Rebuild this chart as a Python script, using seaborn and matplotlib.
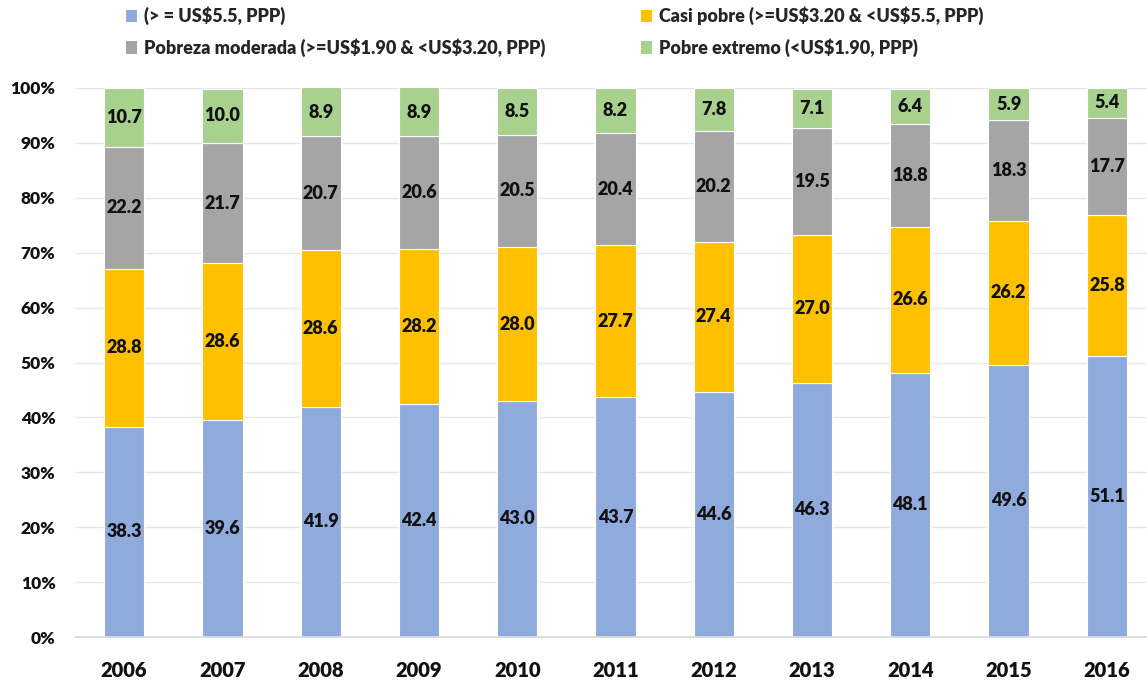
import numpy as np
import pandas as pd
import seaborn as sns
import matplotlib.pyplot as plt
from matplotlib.ticker import FuncFormatter, MultipleLocator
from matplotlib.patches import Patch

years = ['2006', '2007', '2008', '2009', '2010', '2011', '2012', '2013', '2014', '2015', '2016']
no_pobre = [38.3, 39.6, 41.9, 42.4, 43.0, 43.7, 44.6, 46.3, 48.1, 49.6, 51.1]
casi_pobre = [28.8, 28.6, 28.6, 28.2, 28.0, 27.7, 27.4, 27.0, 26.6, 26.2, 25.8]
pobreza_moderada = [22.2, 21.7, 20.7, 20.6, 20.5, 20.4, 20.2, 19.5, 18.8, 18.3, 17.7]
pobre_extremo = [10.7, 10.0, 8.9, 8.9, 8.5, 8.2, 7.8, 7.1, 6.4, 5.9, 5.4]

series_names = ['(> = US$5.5, PPP)',
                'Casi pobre (>=US$3.20 & <US$5.5, PPP)',
                'Pobreza moderada (>=US$1.90 & <US$3.20, PPP)',
                'Pobre extremo (<US$1.90, PPP)']
series_values = [no_pobre, casi_pobre, pobreza_moderada, pobre_extremo]
colors = ['#8FAADC', '#FFC000', '#A5A5A5', '#A9D18E']

sns.set_theme(style='white')
plt.rcParams['font.family'] = ['Lato', 'DejaVu Sans']
plt.rcParams['font.weight'] = 'bold'
plt.rcParams['text.parse_math'] = False

fig = plt.figure(figsize=(11.47, 6.83), dpi=100)
ax = fig.add_axes([75 / 1147, 46 / 683, 1081 / 1147, 549 / 683])

bottom = np.zeros(len(years))
for name, vals, col in zip(series_names, series_values, colors):
    df = pd.DataFrame({'year': years, 'value': vals})
    sns.barplot(data=df, x='year', y='value', color=col, saturation=1,
                width=0.41, errorbar=None, bottom=bottom, ax=ax,
                edgecolor='white', linewidth=0.8)
    ax.bar_label(ax.containers[-1], labels=[f'{v:.1f}' for v in vals],
                 label_type='center', fontsize=13, fontweight='heavy',
                 color='#111111')
    bottom = bottom + np.array(vals)

ax.set_ylim(0, 100)
ax.set_xlim(-0.5, len(years) - 0.5)
ax.yaxis.set_major_locator(MultipleLocator(10))
ax.yaxis.set_major_formatter(FuncFormatter(lambda v, p: f'{v:.0f}%'))
ax.yaxis.grid(True, color='#e6e6e6', linewidth=1)
ax.set_axisbelow(True)
for s in ['top', 'right', 'left']:
    ax.spines[s].set_visible(False)
ax.spines['bottom'].set_color('#d9d9d9')
ax.set_xlabel('')
ax.set_ylabel('')
ax.tick_params(axis='y', labelsize=12.5, length=0, pad=14)
ax.tick_params(axis='x', labelsize=14.5, length=0, pad=17)
for t in ax.get_xticklabels() + ax.get_yticklabels():
    t.set_fontweight('heavy')
    t.set_color('#111111')

order = [0, 2, 1, 3]
handles = [Patch(facecolor=colors[i], edgecolor='none') for i in order]
labels = [series_names[i] for i in order]
fig.legend(handles, labels, ncol=2, loc='upper left', bbox_to_anchor=(110 / 1147, 1.014),
           frameon=False, handlelength=0.6, handleheight=0.7,
           handletextpad=0.4, columnspacing=5.3, labelspacing=0.72,
           prop={'weight': 'heavy', 'size': 13})

fig.savefig('out.png', dpi=100)
